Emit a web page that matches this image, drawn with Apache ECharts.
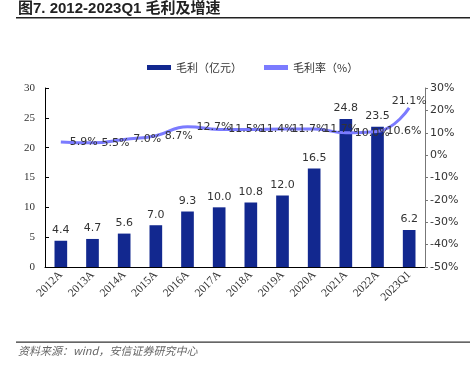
<!DOCTYPE html>
<html><head><meta charset="utf-8">
<script src="https://cdn.jsdelivr.net/npm/echarts@6/dist/echarts.min.js"></script>
<style>html,body{margin:0;padding:0;background:#fff}#c{width:470px;height:375px}</style>
</head><body><div id="c"></div>
<script>
const categories = ['2012A','2013A','2014A','2015A','2016A','2017A','2018A','2019A','2020A','2021A','2022A','2023Q1'];
const grossProfit = [4.4,4.7,5.6,7.0,9.3,10.0,10.8,12.0,16.5,24.8,23.5,6.2];
const grossMargin = [5.9,5.5,7.0,8.7,12.7,11.5,11.4,11.7,11.7,10.0,10.6,21.1];
const leftTicks = {min:0,max:30,interval:5};
const rightTicks = {min:-50,max:30,interval:10};

const chart = echarts.init(document.getElementById('c'));
chart.setOption({
  animation:false,
  backgroundColor:'#fff',
  graphic:[
    {type:'text',left:18,top:1,style:{text:'图7. 2012-2023Q1 毛利及增速',font:'bold 15px "Liberation Sans","Noto Sans CJK SC"',fill:'#222'}},
    {type:'rect',shape:{x:16,y:17,width:454,height:1.6},style:{fill:'#222'}},
    {type:'rect',shape:{x:16,y:341.5,width:454,height:1.2},style:{fill:'#333'}},
    {type:'text',left:18,top:345,style:{text:'资料来源：wind，安信证券研究中心',font:'italic 11px "Noto Sans CJK SC"',fill:'#666'}}
  ],
  legend:{
    top:57,left:142,itemGap:22,itemWidth:24,itemHeight:5,
    textStyle:{fontSize:11,color:'#333',fontFamily:'"Noto Sans CJK SC"'},
    data:[{name:'毛利（亿元）',icon:'rect'},{name:'毛利率（%）',icon:'rect'}]
  },
  grid:{left:45,right:45,top:88,bottom:108},
  xAxis:{
    type:'category',data:categories,
    axisLine:{lineStyle:{color:'#000',width:1}},
    axisTick:{show:false},
    axisLabel:{rotate:45,interval:0,fontSize:11.5,color:'#333',fontFamily:'"Liberation Serif"',margin:6}
  },
  yAxis:[
    {type:'value',min:leftTicks.min,max:leftTicks.max,interval:leftTicks.interval,
     splitLine:{show:false},
     axisLine:{show:true,lineStyle:{color:'#000'}},
     axisTick:{show:true,inside:true,length:4,lineStyle:{color:'#000'}},
     axisLabel:{fontSize:11,color:'#333',fontFamily:'"Liberation Serif"',margin:10}},
    {type:'value',min:rightTicks.min,max:rightTicks.max,interval:rightTicks.interval,
     splitLine:{show:false},
     axisLine:{show:true,lineStyle:{color:'#777'}},
     axisTick:{show:true,length:3,lineStyle:{color:'#777'}},
     axisLabel:{fontSize:11,color:'#333',fontFamily:'"DejaVu Sans"',formatter:'{value}%',margin:5}}
  ],
  series:[
    {name:'毛利（亿元）',type:'bar',data:grossProfit,barWidth:'40%',z:1,
     itemStyle:{color:'#12288F'},
     label:{show:true,position:'top',distance:5,fontSize:11,color:'#333',fontFamily:'"DejaVu Sans"',formatter:p=>p.value.toFixed(1)}},
    {name:'毛利率（%）',type:'line',yAxisIndex:1,data:grossMargin.map((v,i)=>i===grossMargin.length-1?{value:v,label:{position:'top',distance:1}}:v),
     smooth:true,showSymbol:true,symbol:'circle',symbolSize:0,
     lineStyle:{color:'#7B7BFF',width:3},itemStyle:{color:'#7B7BFF'},z:10,zlevel:1,
     label:{show:true,position:'right',distance:9,fontSize:11,color:'#333',fontFamily:'"DejaVu Sans"',formatter:p=>p.value.toFixed(1)+'%'}}
  ]
});
</script></body></html>
